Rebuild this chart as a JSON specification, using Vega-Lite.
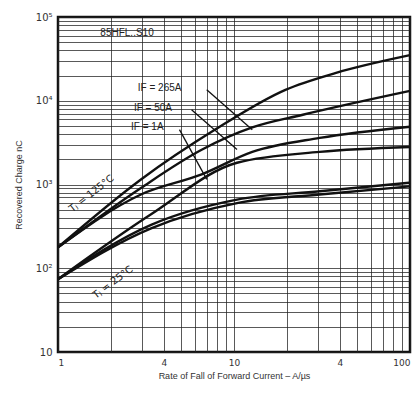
{
  "$schema": "https://vega.github.io/schema/vega-lite/v6.json",
  "width": 352,
  "height": 335,
  "autosize": {"type": "none"},
  "padding": {"left": 58, "top": 17, "right": 4, "bottom": 42},
  "background": "white",
  "config": {
    "view": {"stroke": "#111", "strokeWidth": 2.5},
    "font": "Liberation Sans",
    "axis": {"labelFont": "DejaVu Sans", "titleFont": "Liberation Sans", "labelColor": "#333", "titleColor": "#333", "titleFontWeight": "normal", "labelFontSize": 9, "titleFontSize": 9, "gridColor": "#222", "gridOpacity": 0.75, "gridWidth": 1, "ticks": false, "domain": false}
  },
  "datasets": {
    "curves": [
      {"rate": 1, "charge": 178, "curve": "125-265"},
      {"rate": 2.96, "charge": 1150, "curve": "125-265"},
      {"rate": 7.78, "charge": 4500, "curve": "125-265"},
      {"rate": 19.6, "charge": 13500, "curve": "125-265"},
      {"rate": 38, "charge": 21500, "curve": "125-265"},
      {"rate": 100, "charge": 35000, "curve": "125-265"},
      {"rate": 1, "charge": 178, "curve": "125-50"},
      {"rate": 2.96, "charge": 910, "curve": "125-50"},
      {"rate": 6.55, "charge": 2600, "curve": "125-50"},
      {"rate": 12.7, "charge": 4800, "curve": "125-50"},
      {"rate": 24.6, "charge": 6800, "curve": "125-50"},
      {"rate": 100, "charge": 13100, "curve": "125-50"},
      {"rate": 1, "charge": 178, "curve": "125-1"},
      {"rate": 2.96, "charge": 760, "curve": "125-1"},
      {"rate": 6.55, "charge": 1320, "curve": "125-1"},
      {"rate": 12.7, "charge": 2450, "curve": "125-1"},
      {"rate": 30.7, "charge": 3600, "curve": "125-1"},
      {"rate": 100, "charge": 4900, "curve": "125-1"},
      {"rate": 1, "charge": 74, "curve": "25-265"},
      {"rate": 3.38, "charge": 440, "curve": "25-265"},
      {"rate": 10.4, "charge": 1820, "curve": "25-265"},
      {"rate": 30.7, "charge": 2450, "curve": "25-265"},
      {"rate": 100, "charge": 2800, "curve": "25-265"},
      {"rate": 1, "charge": 74, "curve": "25-50"},
      {"rate": 3.38, "charge": 330, "curve": "25-50"},
      {"rate": 10.4, "charge": 660, "curve": "25-50"},
      {"rate": 30.7, "charge": 830, "curve": "25-50"},
      {"rate": 100, "charge": 1050, "curve": "25-50"},
      {"rate": 1, "charge": 74, "curve": "25-1"},
      {"rate": 3.38, "charge": 300, "curve": "25-1"},
      {"rate": 10.4, "charge": 600, "curve": "25-1"},
      {"rate": 30.7, "charge": 760, "curve": "25-1"},
      {"rate": 100, "charge": 950, "curve": "25-1"}
    ],
    "leaders": [
      {"rate": 7.0, "charge": 13500, "rate2": 12.7, "charge2": 4500},
      {"rate": 5.74, "charge": 7800, "rate2": 10.4, "charge2": 2610},
      {"rate": 4.9, "charge": 4520, "rate2": 7.0, "charge2": 1150}
    ],
    "labels": [
      {"rate": 1.74, "charge": 64500, "text": "85HFL..S10"},
      {"rate": 2.84, "charge": 14300, "text": "IF = 265A"},
      {"rate": 2.7, "charge": 8260, "text": "IF = 50A"},
      {"rate": 2.6, "charge": 4800, "text": "IF = 1A"}
    ],
    "temp125": [{"rate": 1.55, "charge": 780, "text": "T\u2c7c = 125°C"}],
    "temp25": [{"rate": 2.05, "charge": 68, "text": "T\u2c7c = 25°C"}]
  },
  "layer": [
    {
      "data": {"name": "curves"},
      "mark": {"type": "line", "color": "#111", "strokeWidth": 2.4, "interpolate": "monotone"},
      "encoding": {
        "x": {"field": "rate", "type": "quantitative",
          "scale": {"type": "log", "domain": [1, 100], "nice": false},
          "axis": {"values": [1,2,3,4,5,6,7,8,9,10,20,30,40,50,60,70,80,90,100],
            "labelExpr": "datum.value==1?'1':datum.value==4?'4':datum.value==10?'10':datum.value==40?'4':datum.value==100?'100':''",
            "labelPadding": 6, "title": "Rate of Fall of Forward Current – A/µs", "titlePadding": 4}},
        "y": {"field": "charge", "type": "quantitative",
          "scale": {"type": "log", "domain": [10, 100000], "nice": false},
          "axis": {"values": [10,20,30,40,50,60,70,80,90,100,200,300,400,500,600,700,800,900,1000,2000,3000,4000,5000,6000,7000,8000,9000,10000,20000,30000,40000,50000,60000,70000,80000,90000,100000],
            "labelExpr": "datum.value==100000?'10⁵':datum.value==10000?'10⁴':datum.value==1000?'10³':datum.value==100?'10²':datum.value==10?'10':''",
            "labelPadding": 6, "labelFontSize": 10, "title": "Recovered Charge   nC", "titlePadding": 12}},
        "detail": {"field": "curve"}
      }
    },
    {
      "data": {"name": "leaders"},
      "mark": {"type": "rule", "color": "#111", "strokeWidth": 1.3},
      "encoding": {
        "x": {"field": "rate", "type": "quantitative"},
        "y": {"field": "charge", "type": "quantitative"},
        "x2": {"field": "rate2"},
        "y2": {"field": "charge2"}
      }
    },
    {
      "data": {"name": "labels"},
      "mark": {"type": "text", "align": "left", "baseline": "middle", "fontSize": 10, "color": "#222", "font": "Liberation Sans"},
      "encoding": {
        "x": {"field": "rate", "type": "quantitative"},
        "y": {"field": "charge", "type": "quantitative"},
        "text": {"field": "text"}
      }
    },
    {
      "data": {"name": "temp125"},
      "mark": {"type": "text", "align": "center", "baseline": "middle", "fontSize": 10, "angle": 322, "color": "#222", "font": "DejaVu Sans"},
      "encoding": {
        "x": {"field": "rate", "type": "quantitative"},
        "y": {"field": "charge", "type": "quantitative"},
        "text": {"field": "text"}
      }
    },
    {
      "data": {"name": "temp25"},
      "mark": {"type": "text", "align": "center", "baseline": "middle", "fontSize": 10, "angle": 323, "color": "#222", "font": "DejaVu Sans"},
      "encoding": {
        "x": {"field": "rate", "type": "quantitative"},
        "y": {"field": "charge", "type": "quantitative"},
        "text": {"field": "text"}
      }
    }
  ]
}
